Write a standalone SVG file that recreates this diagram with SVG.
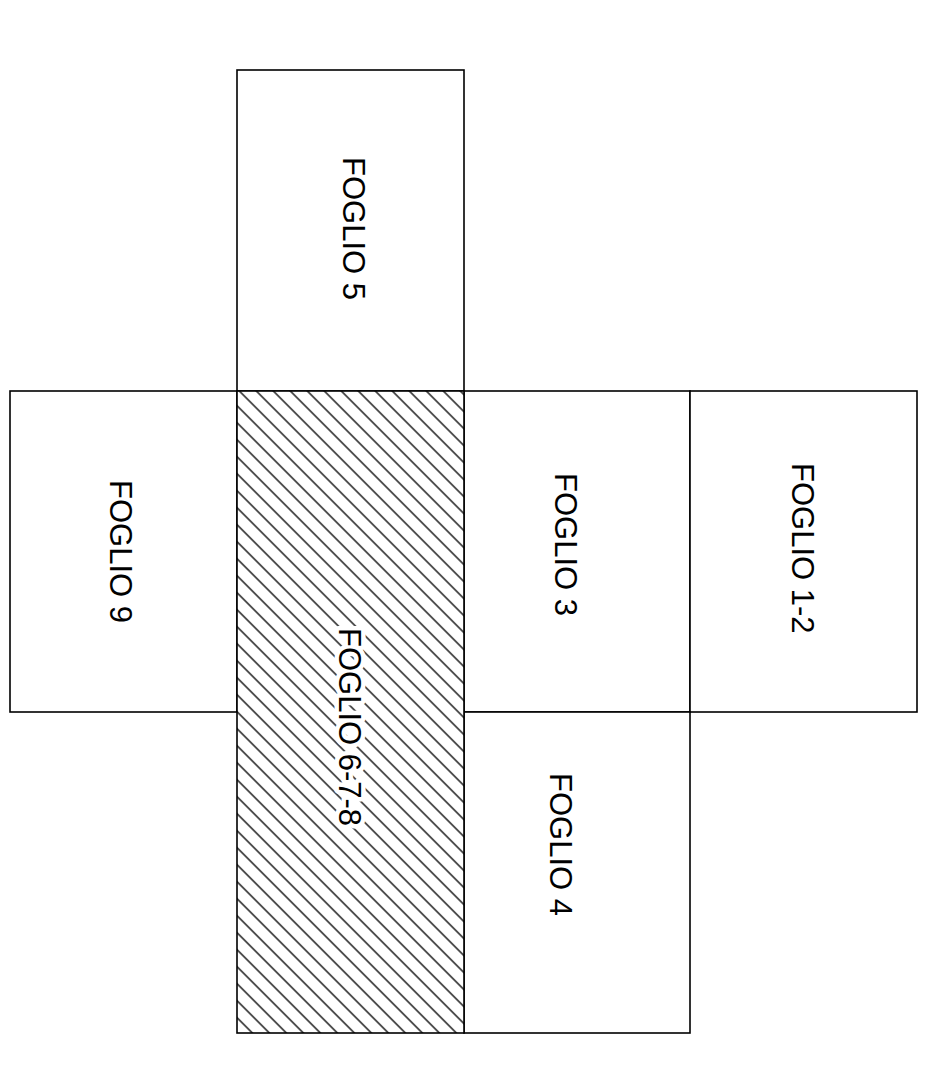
<svg xmlns="http://www.w3.org/2000/svg" width="931" height="1080" viewBox="0 0 931 1080">
  <style>
    .box { fill: #ffffff; stroke: #000000; stroke-width: 1.6; }
    .hatched { fill: url(#hatch); stroke: #000000; stroke-width: 1.6; }
    .label { font-family: "Liberation Sans", Arial, sans-serif; font-size: 31px; fill: #000000; }
    .halo { stroke: #ffffff; stroke-width: 9; stroke-linejoin: round; paint-order: stroke; }
  </style>
  <defs>
    <pattern id="hatch" patternUnits="userSpaceOnUse" width="12.02" height="12.02" patternTransform="rotate(-45)">
      <rect width="12.02" height="12.02" fill="#ffffff"/>
      <line x1="0.9" y1="-1" x2="0.9" y2="13" stroke="#4a4a4a" stroke-width="1.8"/>
    </pattern>
  </defs>
  <rect width="931" height="1080" fill="#ffffff"/>
  <g id="foglio-5">
    <rect class="box" x="237" y="70" width="227" height="321"/>
    <text class="label" transform="translate(343,157) rotate(90)">FOGLIO 5</text>
  </g>
  <g id="foglio-9">
    <rect class="box" x="10" y="391" width="227" height="321"/>
    <text class="label" transform="translate(110,480) rotate(90)">FOGLIO 9</text>
  </g>
  <g id="foglio-3">
    <rect class="box" x="464" y="391" width="226" height="321"/>
    <text class="label" transform="translate(555,473) rotate(90)">FOGLIO 3</text>
  </g>
  <g id="foglio-1-2">
    <rect class="box" x="690" y="391" width="227" height="321"/>
    <text class="label" transform="translate(792,463) rotate(90)">FOGLIO 1-2</text>
  </g>
  <g id="foglio-4">
    <rect class="box" x="464" y="712" width="226" height="321"/>
    <text class="label" transform="translate(550,773) rotate(90)">FOGLIO 4</text>
  </g>
  <g id="foglio-6-7-8">
    <rect class="hatched" x="237" y="391" width="227" height="642"/>
    <text class="label halo" transform="translate(339,628) rotate(90)">FOGLIO 6-7-8</text>
  </g>
  <g id="connectors"/>
</svg>
